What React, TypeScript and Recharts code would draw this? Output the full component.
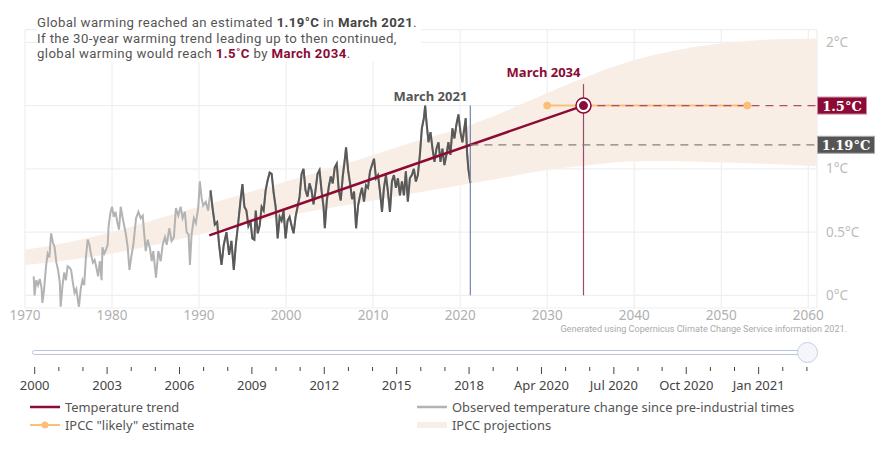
import React from 'react'
import { ComposedChart, LineChart, Line, Area, XAxis, YAxis, CartesianGrid, ReferenceLine, ReferenceDot } from 'recharts'

const DARK_RED = '#8b0b36'
const ORANGE = '#fbbf77'
const LIGHT_GRAY = '#b3b3b3'
const DARK_GRAY = '#595959'
const BAND = '#f8eee5'

const yearTicks = [1970, 1980, 1990, 2000, 2010, 2020, 2030, 2040, 2050, 2060]
const tempTicks = [0, 0.5, 1, 1.5, 2]

// monthly-ish global temperature anomaly readings (year, °C)
const observed: [number, number][] = [
  [1971.0, 0.15], [1971.1, 0.0], [1971.3, 0.12], [1971.5, 0.08], [1971.7, 0.13], [1971.9, 0.06],
  [1972.0, -0.06], [1972.2, 0.05], [1972.4, 0.22], [1972.6, 0.33], [1972.8, 0.3], [1973.0, 0.49],
  [1973.2, 0.42], [1973.4, 0.38], [1973.6, 0.26], [1973.8, 0.2], [1974.0, 0.1], [1974.1, -0.09],
  [1974.3, 0.07], [1974.5, 0.18], [1974.7, 0.12], [1974.9, 0.23], [1975.1, 0.22], [1975.3, 0.2],
  [1975.5, 0.1], [1975.7, 0.02], [1975.9, 0.05], [1976.1, -0.05], [1976.2, -0.09], [1976.4, 0.05],
  [1976.6, 0.12], [1976.8, 0.08], [1977.0, 0.3], [1977.2, 0.44], [1977.4, 0.4], [1977.6, 0.32],
  [1977.8, 0.26], [1978.0, 0.28], [1978.2, 0.22], [1978.4, 0.15], [1978.6, 0.27], [1978.8, 0.12],
  [1978.9, 0.38], [1979.1, 0.33], [1979.3, 0.36], [1979.5, 0.4], [1979.6, 0.54], [1979.8, 0.65],
  [1980.0, 0.7], [1980.2, 0.62], [1980.4, 0.66], [1980.6, 0.58], [1980.8, 0.52], [1981.0, 0.7],
  [1981.2, 0.62], [1981.4, 0.55], [1981.6, 0.48], [1981.8, 0.38], [1982.0, 0.2], [1982.2, 0.3],
  [1982.45, 0.4], [1982.76, 0.61], [1983.03, 0.66], [1983.3, 0.61], [1983.53, 0.63], [1983.68, 0.5],
  [1983.87, 0.35], [1984.1, 0.44], [1984.36, 0.37], [1984.56, 0.27], [1984.74, 0.35], [1985.05, 0.14],
  [1985.32, 0.35], [1985.59, 0.27], [1985.82, 0.4], [1986.08, 0.46], [1986.28, 0.4], [1986.58, 0.53],
  [1986.85, 0.43], [1987.11, 0.46], [1987.34, 0.69], [1987.61, 0.63], [1987.88, 0.7], [1988.11, 0.61],
  [1988.37, 0.66], [1988.57, 0.5], [1988.8, 0.48], [1988.95, 0.24], [1989.14, 0.48], [1989.4, 0.61],
  [1989.63, 0.57], [1989.9, 0.69], [1990.09, 0.9], [1990.29, 0.77], [1990.47, 0.71], [1990.78, 0.74],
  [1991.04, 0.67], [1991.32, 0.83], [1991.55, 0.69], [1991.81, 0.56], [1992.08, 0.58], [1992.3, 0.4],
  [1992.58, 0.24], [1992.84, 0.4], [1993.15, 0.5], [1993.45, 0.32], [1993.72, 0.43], [1993.99, 0.2],
  [1994.22, 0.4], [1994.48, 0.56], [1994.75, 0.74], [1994.98, 0.88], [1995.21, 0.7], [1995.44, 0.67],
  [1995.67, 0.55], [1995.9, 0.59], [1996.12, 0.45], [1996.35, 0.44], [1996.51, 0.67], [1996.74, 0.49],
  [1996.96, 0.55], [1997.19, 0.7], [1997.42, 0.67], [1997.65, 0.83], [1997.88, 0.91], [1998.11, 0.97],
  [1998.34, 0.96], [1998.57, 0.81], [1998.8, 0.7], [1999.03, 0.45], [1999.26, 0.62], [1999.48, 0.59],
  [1999.71, 0.67], [1999.94, 0.45], [2000.17, 0.59], [2000.4, 0.62], [2000.63, 0.55], [2000.86, 0.49],
  [2001.09, 0.62], [2001.32, 0.7], [2001.55, 0.78], [2001.78, 0.96], [2002.0, 1.0], [2002.23, 0.83],
  [2002.46, 0.78], [2002.69, 0.885], [2002.92, 0.83], [2003.15, 0.72], [2003.38, 0.83], [2003.61, 0.96],
  [2003.84, 0.99], [2004.07, 0.83], [2004.3, 0.7], [2004.45, 0.53], [2004.68, 0.75], [2004.91, 0.86],
  [2005.14, 0.94], [2005.36, 0.885], [2005.59, 1.01], [2005.82, 1.04], [2006.05, 0.83], [2006.28, 0.75],
  [2006.51, 0.94], [2006.74, 1.07], [2006.89, 1.17], [2007.12, 0.99], [2007.35, 0.885], [2007.58, 0.76],
  [2007.81, 0.82], [2008.04, 0.53], [2008.27, 0.71], [2008.5, 0.79], [2008.72, 0.85], [2008.95, 0.74],
  [2009.18, 0.87], [2009.41, 0.85], [2009.64, 0.98], [2009.87, 1.03], [2010.1, 1.08], [2010.33, 0.925],
  [2010.56, 0.95], [2010.79, 0.82], [2011.02, 0.66], [2011.24, 0.85], [2011.47, 0.95], [2011.7, 0.82],
  [2011.93, 0.66], [2012.16, 0.9], [2012.39, 0.95], [2012.62, 0.85], [2012.85, 0.925], [2013.08, 0.79],
  [2013.31, 0.9], [2013.54, 0.79], [2013.76, 0.98], [2013.99, 0.74], [2014.22, 0.925], [2014.45, 0.95],
  [2014.68, 1.0], [2014.91, 0.9], [2015.14, 0.95], [2015.37, 1.11], [2015.6, 1.32], [2015.83, 1.4],
  [2015.98, 1.5], [2016.13, 1.37], [2016.36, 1.21], [2016.59, 1.29], [2016.82, 1.16], [2017.05, 1.055],
  [2017.28, 1.16], [2017.51, 1.21], [2017.74, 1.055], [2017.96, 1.16], [2018.19, 1.03], [2018.42, 1.11],
  [2018.65, 1.21], [2018.88, 1.11], [2019.11, 1.32], [2019.34, 1.24], [2019.57, 1.35], [2019.8, 1.43],
  [2020.03, 1.29], [2020.26, 1.21], [2020.48, 1.32], [2020.64, 1.4], [2020.79, 1.13], [2020.94, 1.0],
  [2021.17, 0.89],
]

const TREND_FROM = 1991.3
const MARCH_2021 = 2021.17
const MARCH_2034 = 2034.17
const trendYears = [1991.17, MARCH_2034]
const trendTemps = [0.474, 1.5]
const reached = 1.19
const target = 1.5
const likelyYears = [2030, 2053]

const projYears = [1970, 1975, 1980, 1985, 1990, 1995, 2000, 2005, 2010, 2015, 2020, 2025, 2030, 2035, 2040, 2045, 2050, 2055, 2061]
const projLow = [0.24, 0.28, 0.33, 0.4, 0.48, 0.56, 0.63, 0.69, 0.75, 0.81, 0.87, 0.93, 0.99, 1.03, 1.06, 1.06, 1.05, 1.04, 1.02]
const projHigh = [0.36, 0.42, 0.5, 0.6, 0.7, 0.8, 0.9, 1.0, 1.11, 1.22, 1.32, 1.45, 1.6, 1.74, 1.86, 1.94, 1.99, 2.02, 2.03]

const sliderLabels = ['2000', '2003', '2006', '2009', '2012', '2015', '2018', 'Apr 2020', 'Jul 2020', 'Oct 2020', 'Jan 2021']
const sliderSteps = Array.from({ length: 33 }, (_, i) => i)

const observedData = observed.map(([year, temp]) => ({ year, temp }))
const recentData = observedData.filter((d) => d.year >= TREND_FROM)
const trendData = trendYears.map((year, i) => ({ year, temp: trendTemps[i] }))
const likelyData = likelyYears.map((year) => ({ year, temp: target }))
const projData = projYears.map((year, i) => ({ year, range: [projLow[i], projHigh[i]] }))

const XTick = ({ x, y, payload }: any) => (
  <text x={x} y={y + 12} textAnchor='middle' fontSize={13.5} fill='#b0b0b0'>
    {payload.value}
  </text>
)

const YTick = ({ x, y, payload }: any) => {
  if (payload.value === 1.5) return <g />
  return (
    <text x={x + 9} y={y + 4.5} textAnchor='start' fontSize={13.5} fill='#bbbbbb'>
      {payload.value + '°C'}
    </text>
  )
}

const SliderTick = ({ x, y, payload }: any) => {
  const i = payload.value
  const major = i % 3 === 0 && i / 3 < sliderLabels.length
  return (
    <g>
      <line x1={x} x2={x} y1={y + 1} y2={y + (major ? 8 : 5)} stroke='#444' strokeWidth={1} />
      {major && (
        <text x={x} y={y + 24} textAnchor='middle' fontSize={13} fill='#444'>
          {sliderLabels[i / 3]}
        </text>
      )}
    </g>
  )
}

const boxLabel = (text: string, fill: string, stroke: string, w: number) => (props: any) => {
  const vb = props.viewBox
  const xr = vb.x + vb.width
  return (
    <g>
      <rect x={xr + 0.5} y={vb.y - 8.5} width={w} height={17} fill={fill} stroke={stroke} strokeWidth={1} />
      <text x={xr + 0.5 + w / 2} y={vb.y + 5} textAnchor='middle' fontSize={13} fontWeight='bold' fontFamily='"DejaVu Serif", serif' fill='#fff'>
        {text}
      </text>
    </g>
  )
}

const topLabel = (text: string, color: string, gap: number) => (props: any) => {
  const vb = props.viewBox
  return (
    <text x={vb.x - 3} y={vb.y - gap} textAnchor='end' fontSize={13} fontWeight='bold' fill={color}>
      {text}
    </text>
  )
}

const TargetDot = ({ cx, cy }: any) => (
  <g>
    <circle cx={cx} cy={cy} r={7.5} fill='#fff' stroke={DARK_RED} strokeWidth={1.5} />
    <circle cx={cx} cy={cy} r={4.5} fill={DARK_RED} />
  </g>
)

function MainChart() {
  return (
    <ComposedChart width={893} height={340} margin={{ top: 29.65, right: 26, bottom: 2, left: 25 }}>
      <CartesianGrid stroke='#efefef' strokeWidth={1.2} />
      <XAxis type='number' dataKey='year' domain={[1970, 2061]} ticks={yearTicks} interval={0} axisLine={false} tickLine={false} tickSize={0} tickMargin={0} height={30} tick={XTick} allowDataOverflow />
      <YAxis type='number' orientation='right' domain={[-0.1, 2.1]} ticks={tempTicks} interval={0} axisLine={false} tickLine={false} tickSize={0} tickMargin={0} width={50} tick={YTick} allowDataOverflow />
      <Area data={projData} dataKey='range' type='monotone' stroke='none' fill={BAND} fillOpacity={1} isAnimationActive={false} />
      <Line data={observedData} dataKey='temp' type='linear' stroke={LIGHT_GRAY} strokeWidth={2} dot={false} isAnimationActive={false} />
      <Line data={recentData} dataKey='temp' type='linear' stroke={DARK_GRAY} strokeWidth={2} dot={false} isAnimationActive={false} />
      <ReferenceLine segment={[{ x: MARCH_2021, y: 0 }, { x: MARCH_2021, y: 1.5 }]} stroke='#7f8fb0' strokeWidth={1.3} label={topLabel('March 2021', '#555', 5)} />
      <ReferenceLine segment={[{ x: MARCH_2034, y: 0 }, { x: MARCH_2034, y: 1.67 }]} stroke='#9d4a68' strokeWidth={1.2} label={topLabel('March 2034', DARK_RED, 7)} />
      <Line data={trendData} dataKey='temp' type='linear' stroke={DARK_RED} strokeWidth={2.5} dot={false} isAnimationActive={false} />
      <Line data={likelyData} dataKey='temp' type='linear' stroke={ORANGE} strokeWidth={2} dot={{ r: 3.5, fill: ORANGE, stroke: ORANGE, strokeWidth: 1 }} isAnimationActive={false} />
      <ReferenceLine segment={[{ x: MARCH_2021, y: reached }, { x: 2061, y: reached }]} stroke='#808080' strokeWidth={1.2} strokeDasharray='8 6' label={boxLabel('1.19°C', '#555555', '#aaaaaa', 57)} />
      <ReferenceLine segment={[{ x: MARCH_2034, y: target }, { x: 2061, y: target }]} stroke='#a8506e' strokeWidth={1.2} strokeDasharray='8 6' label={boxLabel('1.5°C', DARK_RED, '#c98aa0', 49)} />
      <ReferenceDot x={MARCH_2034} y={target} r={7.5} shape={TargetDot} />
    </ComposedChart>
  )
}

function SliderAxis() {
  const data = sliderSteps.map((i) => ({ i, v: 0 }))
  return (
    <LineChart width={893} height={45} data={data} margin={{ top: 0, right: 86.1, bottom: 0, left: 34.7 }}>
      <XAxis type='number' dataKey='i' domain={[0, 32]} ticks={sliderSteps} interval={0} axisLine={false} tickLine={false} tickSize={0} tickMargin={0} height={40} tick={SliderTick} />
      <YAxis hide domain={[0, 1]} />
      <Line dataKey='v' stroke='none' dot={false} isAnimationActive={false} />
    </LineChart>
  )
}

const legendText: React.CSSProperties = { position: 'absolute', fontSize: 12.9, color: '#555', lineHeight: '18px', whiteSpace: 'nowrap' }

export default function App() {
  return (
    <div style={{ position: 'fixed', left: 0, top: 0, width: 893, height: 450, background: '#fff', fontFamily: '"Noto Sans", sans-serif', overflow: 'hidden' }}>
      <div style={{ position: 'absolute', left: 0, top: 0 }}>
        <MainChart />
      </div>
      <div style={{ position: 'absolute', left: 37, top: 15, background: '#fff', fontFamily: 'Roboto, sans-serif', fontSize: 13.2, letterSpacing: '0.4px', lineHeight: '15.5px', color: '#555', paddingRight: 4, whiteSpace: 'nowrap' }}>
        Global warming reached an estimated <b style={{ color: '#444' }}>1.19°C</b> in <b style={{ color: '#444' }}>March 2021</b>.<br />
        If the 30-year warming trend leading up to then continued,<br />
        global warming would reach <b style={{ color: DARK_RED }}>1.5˚C</b> by <b style={{ color: DARK_RED }}>March 2034</b>.
      </div>
      <div style={{ position: 'absolute', right: 46, top: 324.1, fontFamily: 'Roboto, sans-serif', fontSize: 9.1, lineHeight: '10.7px', color: '#aaa', whiteSpace: 'nowrap' }}>
        Generated using Copernicus Climate Change Service information 2021.
      </div>
      <div style={{ position: 'absolute', left: 32, top: 349.5, width: 774, height: 3, border: '1px solid #b9c3da', borderRadius: 3, background: '#fff' }} />
      <div style={{ position: 'absolute', left: 796.5, top: 342, width: 19, height: 19, border: '1px solid #c5cfe3', borderRadius: '50%', background: '#f4f6fa' }} />
      <div style={{ position: 'absolute', left: 0, top: 361 }}>
        <SliderAxis />
      </div>
      <svg style={{ position: 'absolute', left: 0, top: 0 }} width={893} height={450} pointerEvents='none'>
        <line x1={30} x2={60} y1={407} y2={407} stroke={DARK_RED} strokeWidth={2.5} />
        <line x1={30} x2={60} y1={425} y2={425} stroke={ORANGE} strokeWidth={2} />
        <circle cx={45} cy={425} r={3.5} fill={ORANGE} />
        <line x1={417} x2={447} y1={407} y2={407} stroke={LIGHT_GRAY} strokeWidth={2.5} />
        <rect x={417} y={422} width={30} height={6} fill={BAND} />
      </svg>
      <div style={{ ...legendText, left: 65, top: 398 }}>Temperature trend</div>
      <div style={{ ...legendText, left: 65, top: 416 }}>IPCC "likely" estimate</div>
      <div style={{ ...legendText, left: 452, top: 398 }}>Observed temperature change since pre-industrial times</div>
      <div style={{ ...legendText, left: 452, top: 416 }}>IPCC projections</div>
    </div>
  )
}
